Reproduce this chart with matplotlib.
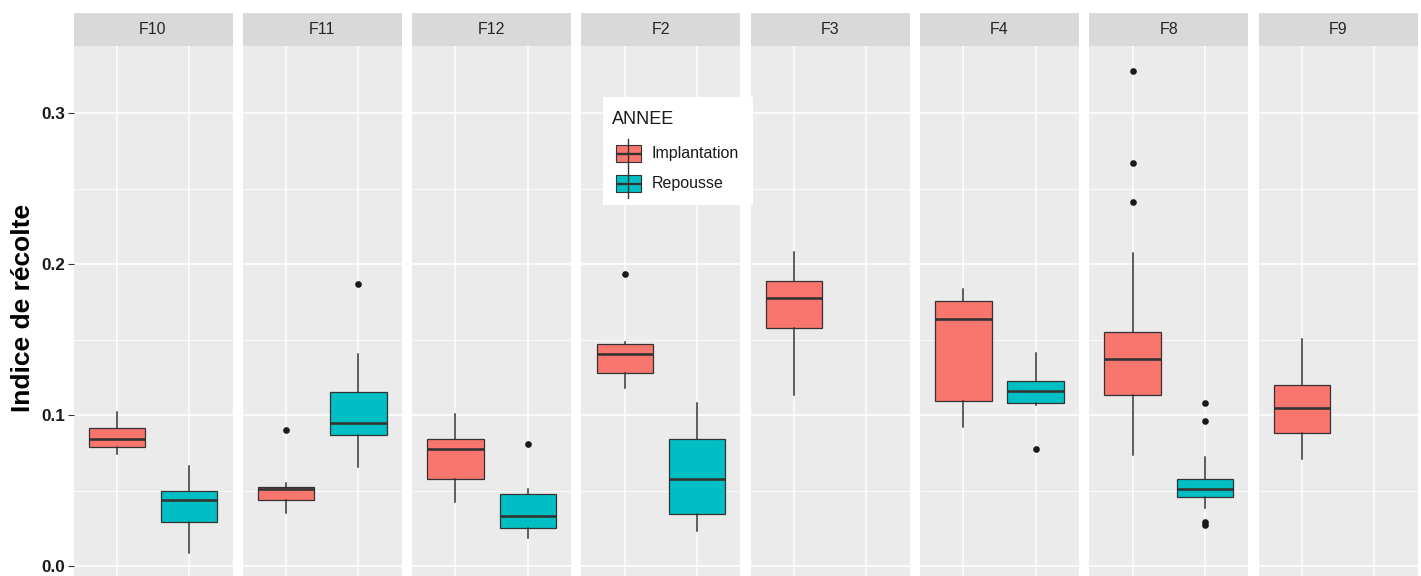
import matplotlib
matplotlib.use("Agg")
import matplotlib.pyplot as plt
from matplotlib.patches import Rectangle
from matplotlib.ticker import FixedLocator

plt.rcParams['font.family'] = ['Liberation Sans', 'DejaVu Sans']

# ---------------- data ----------------
fields = ["F10", "F11", "F12", "F2", "F3", "F4", "F8", "F9"]
annee = ["Implantation", "Repousse"]
colors = ["#F8766D", "#00BFC4"]

imp_whislo = [0.0742, 0.0349, 0.0426, 0.1177, 0.1132, 0.0923, 0.0735, 0.0707]
imp_q1     = [0.0786, 0.0439, 0.0574, 0.1276, 0.1574, 0.1093, 0.1132, 0.0879]
imp_med    = [0.0843, 0.0512, 0.0777, 0.1402, 0.1773, 0.1636, 0.1371, 0.1044]
imp_q3     = [0.0912, 0.0525, 0.0841, 0.1470, 0.1887, 0.1755, 0.1548, 0.1199]
imp_whishi = [0.1018, 0.0552, 0.1004, 0.1486, 0.2082, 0.1832, 0.2071, 0.1501]
imp_fliers = [[], [0.0899], [], [0.1934], [], [], [0.3278, 0.2669, 0.2413], []]

rep_whislo = [0.0084, 0.0654, 0.0183, 0.0234, None, 0.1066, 0.0382, None]
rep_q1     = [0.0294, 0.0865, 0.0254, 0.0344, None, 0.1082, 0.0455, None]
rep_med    = [0.0437, 0.0949, 0.0333, 0.0578, None, 0.1161, 0.0510, None]
rep_q3     = [0.0499, 0.1154, 0.0475, 0.0843, None, 0.1227, 0.0576, None]
rep_whishi = [0.0662, 0.1404, 0.0510, 0.1082, None, 0.1413, 0.0724, None]
rep_fliers = [[], [0.1866], [0.0808], [], [], [0.0773], [0.1082, 0.0960, 0.0293, 0.0272], []]

y_ticks = [0.0, 0.1, 0.2, 0.3]
y_tick_labels = ["0.0", "0.1", "0.2", "0.3"]
y_minor = [0.05, 0.15, 0.25]
y_label = "Indice de récolte"
legend_title = "ANNEE"

# ---------------- layout ----------------
W, H = 1421, 576
fig = plt.figure(figsize=(W / 100, H / 100), dpi=100)
fig.patch.set_facecolor("white")

left0, panel_w, step = 73.5, 159.0, 169.3
panel_top, panel_bot = 46.0, 576.0
strip_top = 13.0
ylim = (-0.0066, 0.3444)
xlim = (0.4, 2.6)
edge = "#333333"

groups = [
    (imp_whislo, imp_q1, imp_med, imp_q3, imp_whishi, imp_fliers),
    (rep_whislo, rep_q1, rep_med, rep_q3, rep_whishi, rep_fliers),
]

for i, f in enumerate(fields):
    x0 = left0 + i * step
    ax = fig.add_axes([x0 / W, 1 - panel_bot / H, panel_w / W, (panel_bot - panel_top) / H])
    ax.set_facecolor("#EBEBEB")
    ax.set_xlim(*xlim)
    ax.set_ylim(*ylim)
    for s in ax.spines.values():
        s.set_visible(False)
    ax.yaxis.set_major_locator(FixedLocator(y_ticks))
    ax.yaxis.set_minor_locator(FixedLocator(y_minor))
    ax.xaxis.set_major_locator(FixedLocator([1, 2]))
    ax.set_axisbelow(True)
    ax.grid(which="major", color="white", linewidth=1.1)
    ax.grid(which="minor", axis="y", color="white", linewidth=0.55)
    ax.tick_params(axis="x", which="both", bottom=False, labelbottom=False)
    ax.tick_params(axis="y", which="minor", left=False)
    if i == 0:
        ax.set_yticklabels(y_tick_labels)
        ax.tick_params(axis="y", which="major", length=4, width=0.8, color=edge,
                       labelsize=12.3, pad=2, labelcolor="#1A1A1A")
        for t in ax.get_yticklabels():
            t.set_fontweight("bold")
    else:
        ax.tick_params(axis="y", which="major", left=False, labelleft=False)

    for g, (wlo, q1, med, q3, whi, fl) in enumerate(groups):
        if med[i] is None:
            continue
        st = [dict(whislo=wlo[i], q1=q1[i], med=med[i], q3=q3[i], whishi=whi[i],
                   fliers=fl[i], label=annee[g])]
        bp = ax.bxp(st, positions=[g + 1], widths=0.78, patch_artist=True,
                    showcaps=False, showfliers=True, manage_ticks=False,
                    boxprops=dict(edgecolor=edge, linewidth=0.9),
                    whiskerprops=dict(color=edge, linewidth=1.1),
                    medianprops=dict(color=edge, linewidth=1.9, solid_capstyle="butt"),
                    flierprops=dict(marker="o", markerfacecolor="#1A1A1A",
                                    markeredgecolor="none", markersize=4.8))
        for b in bp["boxes"]:
            b.set_facecolor(colors[g])

    # strip
    sax = fig.add_axes([x0 / W, 1 - panel_top / H, panel_w / W, (panel_top - strip_top) / H])
    sax.set_facecolor("#D9D9D9")
    sax.set_xticks([]); sax.set_yticks([])
    for s in sax.spines.values():
        s.set_visible(False)
    sax.text(0.5, 0.5, f, transform=sax.transAxes, ha="center", va="center",
             fontsize=11.5, color="#262626")

# y label
fig.text(23 / W, 1 - 308 / H, y_label, rotation=90, ha="center", va="center",
         fontsize=19, fontweight="bold", color="black")

# legend (inside the F2 panel)
lx0, lx1, ly0, ly1 = 603, 753, 97, 205
lax = fig.add_axes([lx0 / W, 1 - ly1 / H, (lx1 - lx0) / W, (ly1 - ly0) / H])
lax.set_xlim(lx0, lx1)
lax.set_ylim(ly1, ly0)
lax.set_facecolor("white")
lax.set_xticks([]); lax.set_yticks([])
for s in lax.spines.values():
    s.set_visible(False)
lax.text(612, 120, legend_title, ha="left", va="center", fontsize=13, color="#1A1A1A")
key_centers = [153.5, 183.5]
for g, yc in enumerate(key_centers):
    lax.plot([628.5, 628.5], [yc - 15, yc + 14], color=edge, linewidth=1.0)
    lax.add_patch(Rectangle((616, yc - 8.5), 25, 17, facecolor=colors[g],
                            edgecolor=edge, linewidth=0.8))
    lax.plot([616, 641], [yc, yc], color=edge, linewidth=1.7, solid_capstyle="butt")
    lax.text(652, yc, annee[g], ha="left", va="center", fontsize=11.5, color="#1A1A1A")

fig.savefig("out.png", dpi=100, facecolor="white")
